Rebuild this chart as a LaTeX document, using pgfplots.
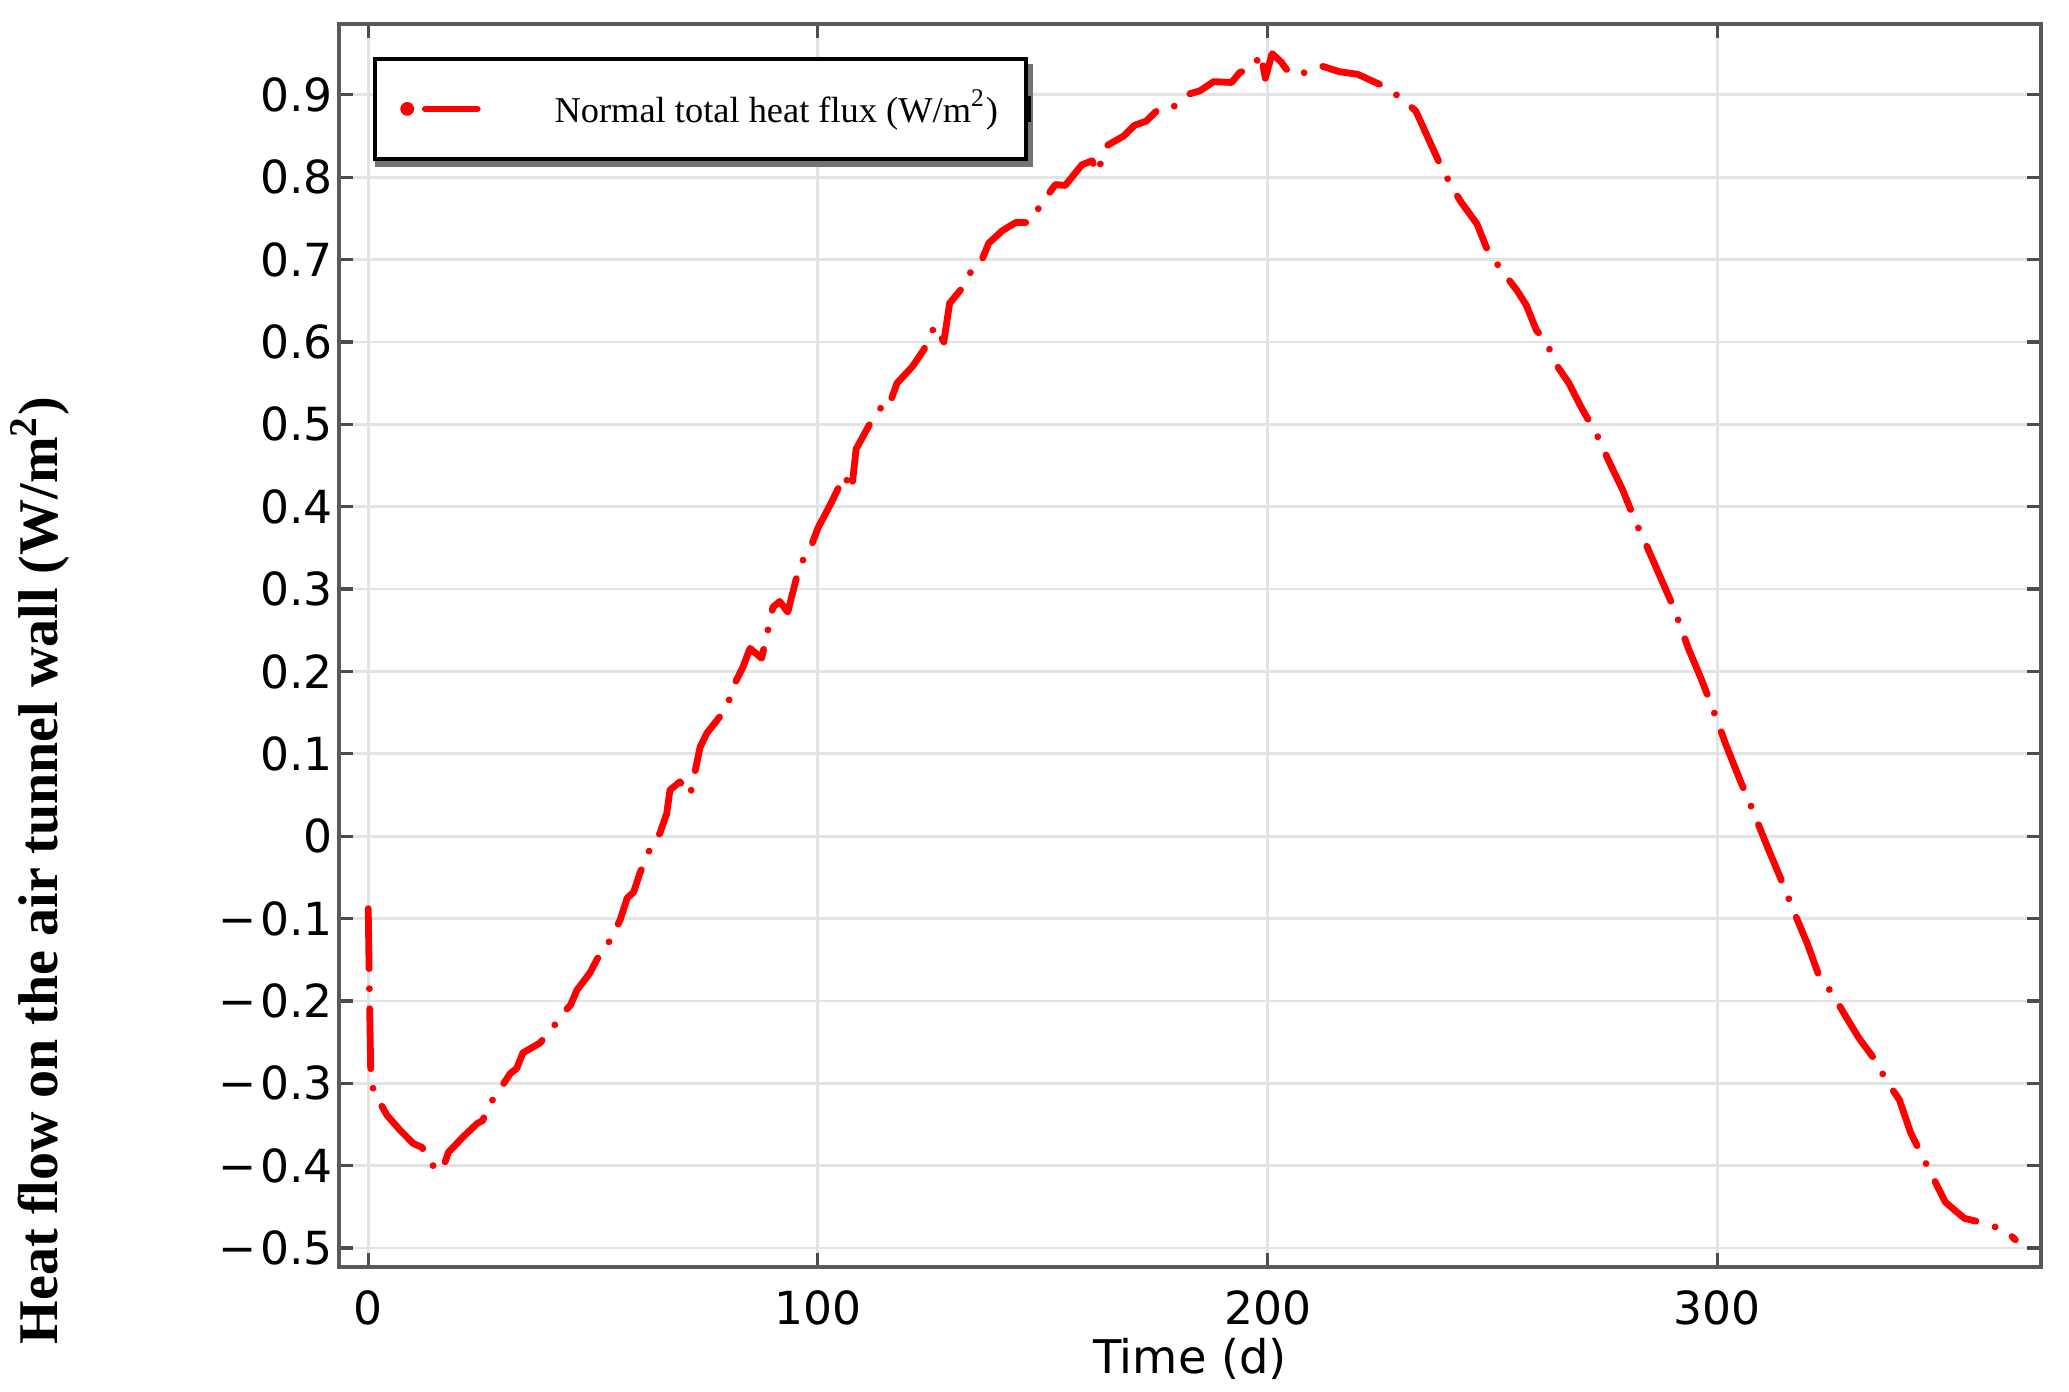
\documentclass[border=0pt]{standalone}
\usepackage{fontspec}
\setmainfont{Liberation Serif}
\newfontfamily\tickfont{DejaVu Sans}
\usepackage{pgfplots}
\pgfplotsset{compat=1.18}

\begin{document}
\begin{tikzpicture}
\useasboundingbox (-84.75pt,-31.25pt) rectangle (432.5pt,316.75pt);
\begin{axis}[
  scale only axis,
  width=425.5pt, height=310.75pt,
  xmin=-6.5, xmax=372,
  ymin=-0.523, ymax=0.986,
  xtick={0,100,200,300},
  xticklabels={0,100,200,300},
  ytick={-0.5,-0.4,-0.3,-0.2,-0.1,0,0.1,0.2,0.3,0.4,0.5,0.6,0.7,0.8,0.9},
  yticklabels={−\kern1pt0.5,−\kern1pt0.4,−\kern1pt0.3,−\kern1pt0.2,−\kern1pt0.1,0,0.1,0.2,0.3,0.4,0.5,0.6,0.7,0.8,0.9},
  tick align=inside,
  major tick length=3.5pt,
  tick style={black!70, line width=0.8pt},
  grid=major,
  major grid style={black!11, line width=0.7pt},
  axis line style={black!65, line width=1.15pt},
  tick label style={font=\fontsize{11.4}{13}\tickfont},
  xticklabel style={yshift=-2.5pt},
  yticklabel style={xshift=2pt},
  xlabel={Time (d)},
  xlabel style={font=\fontsize{11.6}{13}\tickfont, at={([yshift=-23pt]axis description cs:0.5,0)}, anchor=center},
  ylabel={Heat flow on the air tunnel wall (W/m\textsuperscript{2})},
  ylabel style={font=\fontsize{14}{16}\selectfont\bfseries, at={([xshift=-74.75pt]axis description cs:0,0.319)}, anchor=center},
  legend style={name=leg, at={(0.02,0.9735)}, anchor=north west, draw=black, line width=0.9pt,
    fill=white, inner xsep=0pt, inner ysep=0pt,
    font=\fontsize{9.1}{11}\selectfont,
    nodes={inner xsep=0pt, inner ysep=0pt}},
  legend image code/.code={
    \path (-7.25pt,-11.7pt) (36pt,11.7pt);
    \fill[red] (0pt,0pt) circle (0.9pt);
    \draw[red, solid, line width=1.7pt] (4.5pt,0pt) -- (17.5pt,0pt);
  },
]
\addplot[red, line width=1.7pt, line cap=round, line join=round,
  dash pattern=on 15pt off 5pt on 0.01pt off 5pt] coordinates {
(0,-0.088) (0.3,-0.20) (0.6,-0.30) (2,-0.318) (4.2,-0.339) (7.1,-0.357)
(10,-0.373) (12,-0.378) (13.1,-0.390) (14.4,-0.40) (15.5,-0.395) (16.7,-0.402) (17.8,-0.384) (21.1,-0.365)
(24.2,-0.349) (25.5,-0.345) (26.4,-0.33) (28.7,-0.312) (31.6,-0.288) (33,-0.282) (34.4,-0.263) (38.2,-0.251)
(41.1,-0.232) (43.3,-0.215) (45,-0.205) (46.4,-0.187) (49.3,-0.166) (51.6,-0.142) (52.5,-0.138) (53.8,-0.126)
(56,-0.102) (57.6,-0.075) (59,-0.068) (60.4,-0.045) (62.7,-0.015) (64.9,0.004) (66.4,0.028)
(67.1,0.056) (69.3,0.066) (71.6,0.05) (73.8,0.108) (75.3,0.125) (77.6,0.141)
(79.8,0.157) (81.1,0.181) (83.3,0.205) (84.9,0.228) (87.5,0.216) (88.7,0.246)
(90,0.278) (91.5,0.285) (93.3,0.272) (96,0.33) (98,0.345) (100,0.374) (103,0.405) (105.9,0.438)
(107.5,0.42) (108.5,0.47) (111.7,0.502) (114,0.52) (115.5,0.518) (117.6,0.55) (121,0.57) (123.5,0.59)
(126,0.62) (128,0.60) (129.3,0.647) (132,0.665) (135,0.695) (136.5,0.70) (138,0.72) (141,0.735)
(144,0.745) (147,0.745) (150,0.77) (152.8,0.791) (155,0.79) (158.7,0.815) (161,0.82) (162,0.805)
(164.5,0.839) (168,0.85) (170.4,0.863) (173,0.868) (176,0.884) (179,0.885) (182,0.90) (185,0.905) (188,0.916)
(192,0.915) (193.8,0.927) (197,0.935) (198.5,0.95) (199.5,0.92) (201,0.95)
(203,0.94) (205,0.925) (208.5,0.927) (212,0.935) (216,0.928) (220,0.925)
(226,0.91) (230,0.895) (233,0.88) (236.4,0.839) (238,0.82) (240.8,0.79)
(243,0.77) (246.6,0.743) (249,0.71) (251,0.695) (253,0.68) (255.4,0.663)
(257.5,0.645) (259.8,0.614) (262,0.60) (264,0.574) (267,0.55) (270,0.518) (273,0.49) (276,0.454) (279,0.42)
(281.8,0.382) (284.5,0.35) (287.7,0.31) (290.5,0.275) (293.5,0.229) (296.5,0.19) (299.4,0.149)
(302,0.11) (305,0.069) (308,0.03) (311,-0.011) (314,-0.05) (317,-0.091) (320,-0.13) (322.8,-0.172)
(325.5,-0.19) (328.7,-0.22) (331.5,-0.245) (334.6,-0.268) (338,-0.30) (340.5,-0.32) (343,-0.36) (346.3,-0.396)
(348.5,-0.42) (350.7,-0.444) (353,-0.455) (355,-0.464) (358,-0.468) (361,-0.473) (364,-0.478) (366.3,-0.49)
};
\addlegendentry{Normal total heat flux (W/m\textsuperscript{2})\hspace*{7pt}}
\end{axis}
\fill[black!55] ([xshift=0.6pt,yshift=-1.6pt]leg.south west) rectangle ([xshift=1.4pt]leg.south east);
\fill[black!55] (leg.south east) rectangle ([xshift=1.4pt,yshift=-1.8pt]leg.north east);
\draw[black, line width=1.6pt] ([yshift=-3.3pt]leg.east) -- ([yshift=3.3pt]leg.east);
\end{tikzpicture}
\end{document}
